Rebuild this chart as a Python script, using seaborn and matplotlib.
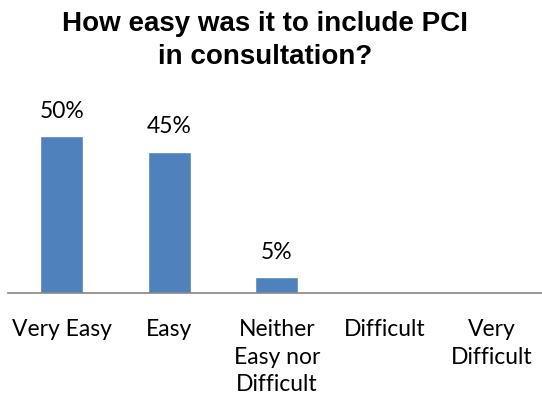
import matplotlib
matplotlib.use("Agg")
import matplotlib.pyplot as plt
import seaborn as sns
import pandas as pd

categories = ["Very Easy", "Easy", "Neither\nEasy nor\nDifficult", "Difficult", "Very\nDifficult"]
shares = [0.50, 0.45, 0.05, 0.0, 0.0]
value_labels = ["50%", "45%", "5%", "", ""]

df = pd.DataFrame({"category": categories, "share": shares})

sns.set_theme(style="white")
plt.rcParams["font.family"] = ["Lato", "DejaVu Sans"]
plt.rcParams["text.color"] = "#000000"

fig = plt.figure(figsize=(5.42, 4.05), dpi=100)
ax = fig.add_axes([8 / 542, (405 - 293) / 405, 537.5 / 542, 188 / 405])

sns.barplot(data=df, x="category", y="share", color="#4F81BD", width=0.4,
            saturation=1, ax=ax)

for i, (v, lab) in enumerate(zip(shares, value_labels)):
    if lab:
        ax.annotate(lab, (i, v), xytext=(0, 10.5), textcoords="offset points",
                    ha="center", va="bottom", fontsize=16.5, color="#000000")

ax.set_xlim(-0.5, 4.5)
ax.set_ylim(0, 0.6)
ax.set_xlabel("")
ax.set_ylabel("")
ax.set_yticks([])
for s in ["top", "right", "left"]:
    ax.spines[s].set_visible(False)
ax.spines["bottom"].set_color("#868686")
ax.spines["bottom"].set_linewidth(1.2)
ax.tick_params(axis="x", length=0, pad=19, labelsize=16.5, labelcolor="#000000")
for t in ax.get_xticklabels():
    t.set_linespacing(1.38)

fig.suptitle("How easy was it to include PCI\nin consultation?", x=0.489, y=0.972,
             fontsize=20, fontweight="bold", family="Liberation Sans",
             color="#000000", linespacing=1.33, va="top")

fig.savefig("out.png", dpi=100)
